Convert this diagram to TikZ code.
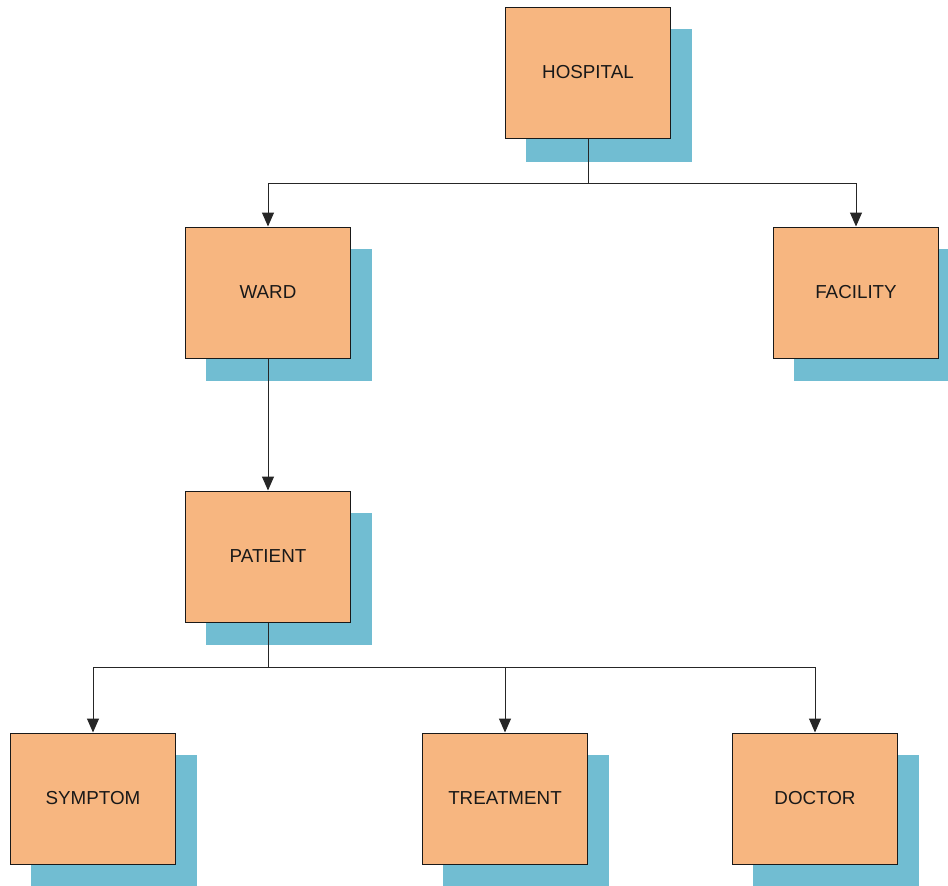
\documentclass[tikz,border=0pt]{standalone}
\usepackage{fontspec}
\setmainfont{Liberation Sans}
\usetikzlibrary{arrows.meta}
\definecolor{boxfill}{HTML}{F7B680}
\definecolor{shadowfill}{HTML}{71BDD2}
\begin{document}
\begin{tikzpicture}[x=1pt,y=-1pt,
  entity/.style={draw=black!90,line width=1pt,fill=boxfill,minimum width=165pt,minimum height=131pt,
    inner sep=0pt,font=\fontsize{18.8pt}{21pt}\selectfont,text=black!90},
  conn/.style={line width=1pt,draw=black!85},
  arr/.style={conn,-{Triangle[width=12pt,length=14pt]}}]
\useasboundingbox (0,0) rectangle (948,886);
% shadows
\fill[shadowfill] (526,29) rectangle (692,162);
\fill[shadowfill] (206,249) rectangle (372,381);
\fill[shadowfill] (794,249) rectangle (948,381);
\fill[shadowfill] (206,513) rectangle (372,645);
\fill[shadowfill] (31,755) rectangle (197,886);
\fill[shadowfill] (443,755) rectangle (609,886);
\fill[shadowfill] (753,755) rectangle (919,886);
% boxes
\node[entity] (hospital) at (588,72.5) {HOSPITAL};
\node[entity] (ward) at (268,292.5) {WARD};
\node[entity] (facility) at (856,292.5) {FACILITY};
\node[entity] (patient) at (268,556.5) {PATIENT};
\node[entity] (symptom) at (93,798.5) {SYMPTOM};
\node[entity] (treatment) at (505,798.5) {TREATMENT};
\node[entity] (doctor) at (815,798.5) {DOCTOR};
% connectors
\coordinate (hj) at (588,183);
\coordinate (pj) at (268,667);
\draw[conn] (hospital.south) -- (hj);
\draw[arr] (hj) -| (ward.north);
\draw[arr] (hj) -| (facility.north);
\draw[arr] (ward.south) -- (patient.north);
\draw[conn] (patient.south) -- (pj);
\draw[arr] (pj) -| (symptom.north);
\draw[arr] (pj) -| (treatment.north);
\draw[arr] (pj) -| (doctor.north);
\end{tikzpicture}
\end{document}
